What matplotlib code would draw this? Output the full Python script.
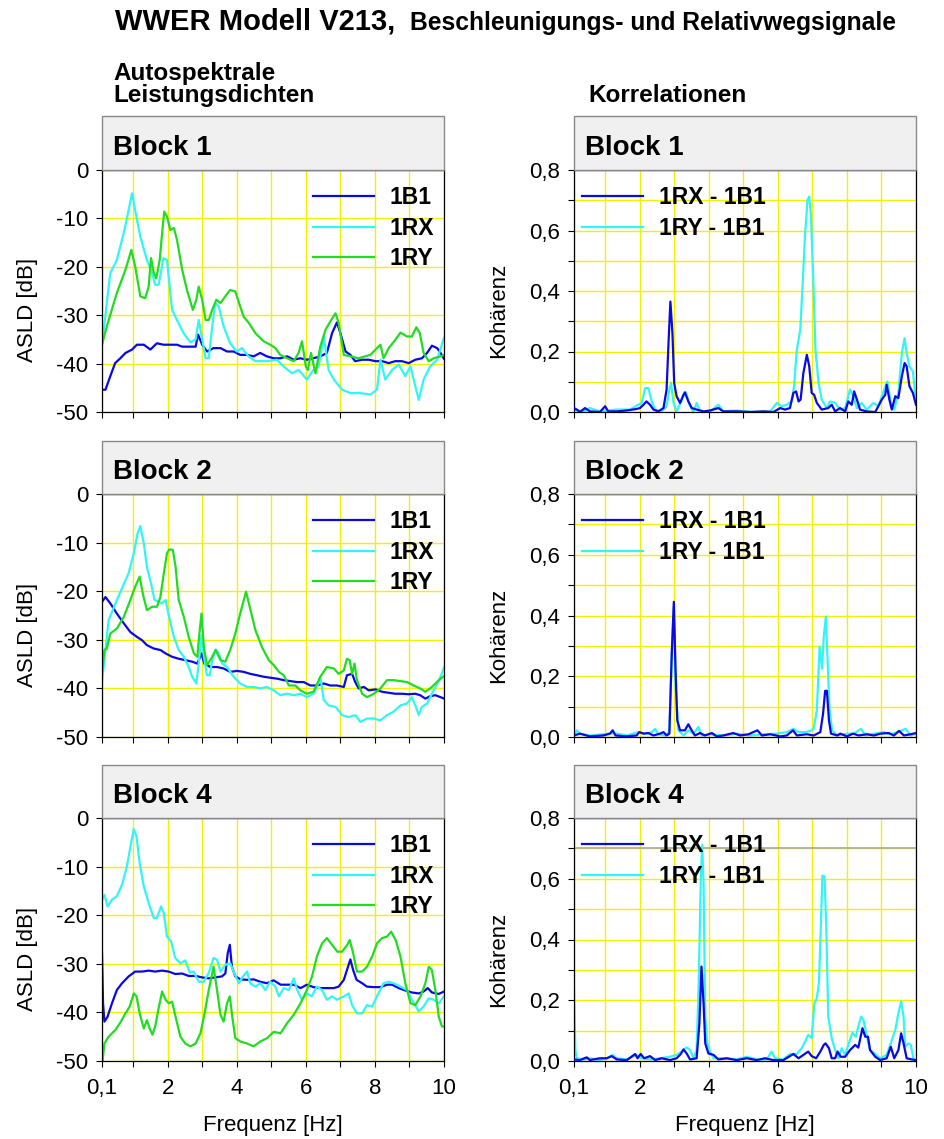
import matplotlib
matplotlib.use('Agg')
import matplotlib.pyplot as plt
from matplotlib.patches import Rectangle
from matplotlib.ticker import FixedLocator, FuncFormatter, NullFormatter

plt.rcParams['font.family'] = ['Liberation Sans', 'DejaVu Sans']
plt.rcParams['axes.unicode_minus'] = False

# ---------------- data ----------------
blocks = ["Block 1", "Block 2", "Block 4"]
asld_labels = ["1B1", "1RX", "1RY"]
coh_labels = ["1RX - 1B1", "1RY - 1B1"]
x_ticks = [0.1, 2, 4, 6, 8, 10]
x_tick_labels = ["0,1", "2", "4", "6", "8", "10"]
x_minor = [1, 3, 5, 7, 9]
asld_yticks = [0, -10, -20, -30, -40, -50]
coh_yticks = [0.0, 0.2, 0.4, 0.6, 0.8]
coh_yminor = [0.1, 0.3, 0.5, 0.7]

# Block 1, ASLD
b1_1B1_f = [0.1, 0.2, 0.34, 0.48, 0.63, 0.78, 0.97, 1.11, 1.31, 1.5, 1.69, 1.88, 2.08, 2.27, 2.42, 2.61, 2.81, 2.88, 3.0, 3.14, 3.33, 3.53, 3.72, 3.91, 4.1, 4.3, 4.49, 4.68, 4.87, 5.07, 5.26, 5.46, 5.65, 5.84, 6.03, 6.22, 6.42, 6.61, 6.76, 6.9, 7.0, 7.15, 7.29, 7.43, 7.63, 7.82, 8.02, 8.21, 8.4, 8.59, 8.78, 8.98, 9.17, 9.36, 9.51, 9.65, 9.8, 9.9, 10]
b1_1B1_v = [-45.4, -45.4, -42.6, -39.9, -38.9, -37.8, -37.1, -36.1, -36.1, -37.1, -35.8, -36.1, -36.1, -36.1, -36.5, -36.5, -36.5, -34.0, -36.1, -37.5, -36.8, -36.8, -37.5, -37.5, -38.2, -38.2, -38.5, -37.8, -38.5, -38.9, -38.9, -38.5, -39.2, -38.9, -39.2, -38.9, -38.5, -37.8, -33.7, -31.5, -33.7, -37.5, -38.2, -39.5, -39.2, -39.2, -39.5, -39.5, -39.9, -39.5, -39.5, -39.9, -39.2, -38.9, -37.8, -36.3, -36.8, -37.8, -39.0]
b1_1RX_f = [0.1, 0.34, 0.53, 0.73, 0.87, 0.97, 1.06, 1.21, 1.4, 1.55, 1.64, 1.74, 1.88, 1.98, 2.13, 2.27, 2.46, 2.66, 2.81, 2.9, 3.0, 3.1, 3.19, 3.29, 3.38, 3.48, 3.62, 3.81, 4.0, 4.15, 4.34, 4.54, 4.87, 5.16, 5.36, 5.6, 5.79, 6.03, 6.22, 6.37, 6.52, 6.66, 6.81, 7.05, 7.29, 7.58, 7.87, 8.06, 8.16, 8.3, 8.5, 8.69, 8.88, 9.03, 9.17, 9.27, 9.41, 9.6, 9.8, 10]
b1_1RX_v = [-36.1, -21.3, -18.6, -13.0, -8.3, -4.8, -8.3, -13.8, -18.6, -21.3, -23.7, -23.7, -18.2, -18.6, -28.9, -31.0, -33.7, -35.6, -35.0, -31.0, -35.0, -38.9, -38.9, -32.3, -27.5, -28.2, -32.3, -35.8, -37.5, -36.8, -38.5, -39.5, -39.5, -39.2, -40.6, -42.0, -41.3, -43.3, -41.3, -40.6, -34.4, -41.3, -43.3, -45.4, -46.1, -46.1, -46.4, -45.4, -39.2, -43.3, -41.3, -40.2, -42.6, -40.6, -44.7, -47.5, -43.3, -40.6, -39.2, -34.7]
b1_1RY_f = [0.1, 0.24, 0.53, 0.78, 0.95, 1.06, 1.21, 1.35, 1.45, 1.52, 1.6, 1.67, 1.77, 1.84, 1.9, 1.98, 2.08, 2.18, 2.27, 2.42, 2.56, 2.73, 2.83, 2.9, 3.0, 3.1, 3.19, 3.29, 3.41, 3.53, 3.67, 3.81, 3.96, 4.1, 4.2, 4.35, 4.54, 4.78, 4.97, 5.12, 5.26, 5.46, 5.65, 5.79, 5.89, 6.0, 6.06, 6.15, 6.28, 6.42, 6.57, 6.71, 6.86, 6.95, 7.1, 7.29, 7.53, 7.72, 7.87, 8.06, 8.16, 8.25, 8.4, 8.59, 8.74, 8.93, 9.07, 9.2, 9.3, 9.41, 9.56, 9.7, 9.9, 10]
b1_1RY_v = [-36.1, -32.3, -25.4, -20.6, -16.5, -19.9, -26.1, -26.5, -24.1, -18.2, -21.3, -22.4, -18.6, -13.1, -8.6, -9.6, -12.4, -12.0, -14.4, -20.6, -24.8, -28.9, -26.8, -24.1, -26.8, -31.0, -31.0, -28.9, -26.8, -27.5, -26.1, -24.8, -25.1, -28.2, -30.3, -31.6, -33.7, -35.4, -36.1, -36.8, -38.2, -38.9, -39.5, -37.8, -35.4, -40.6, -41.3, -37.8, -42.0, -36.5, -33.0, -31.3, -29.6, -31.6, -38.2, -38.5, -38.9, -38.5, -38.2, -36.8, -36.1, -38.9, -36.8, -35.1, -33.6, -34.4, -34.4, -32.5, -33.7, -37.8, -39.5, -38.9, -38.5, -38.2]

# Block 2, ASLD
b2_1B1_f = [0.1, 0.2, 0.34, 0.53, 0.73, 0.92, 1.11, 1.26, 1.4, 1.6, 1.79, 1.94, 2.13, 2.32, 2.52, 2.71, 2.86, 2.98, 3.06, 3.24, 3.43, 3.62, 3.81, 4.01, 4.2, 4.39, 4.59, 4.78, 4.97, 5.17, 5.36, 5.55, 5.75, 5.94, 6.13, 6.32, 6.52, 6.71, 6.9, 7.1, 7.19, 7.34, 7.43, 7.53, 7.68, 7.82, 8.02, 8.21, 8.4, 8.59, 8.78, 8.98, 9.17, 9.31, 9.46, 9.6, 9.75, 9.9, 10]
b2_1B1_v = [-22.2, -21.2, -22.5, -24.6, -26.6, -28.4, -29.4, -30.1, -31.1, -31.8, -32.1, -32.8, -33.5, -33.9, -34.2, -34.5, -34.9, -32.8, -34.9, -35.6, -35.6, -35.9, -36.6, -36.4, -36.6, -37.0, -37.3, -37.6, -37.8, -38.0, -38.3, -38.5, -38.7, -38.7, -39.4, -39.4, -39.0, -39.4, -39.4, -39.7, -37.3, -37.0, -38.7, -40.0, -39.7, -40.4, -40.2, -40.7, -40.9, -41.1, -41.1, -41.2, -41.1, -41.4, -42.1, -41.6, -41.4, -41.8, -42.1]
b2_1RX_f = [0.1, 0.2, 0.29, 0.49, 0.68, 0.87, 1.02, 1.13, 1.21, 1.31, 1.4, 1.52, 1.62, 1.74, 1.84, 1.94, 2.03, 2.18, 2.32, 2.47, 2.61, 2.71, 2.83, 2.9, 2.98, 3.05, 3.14, 3.22, 3.29, 3.39, 3.48, 3.58, 3.72, 3.91, 4.1, 4.3, 4.49, 4.68, 4.87, 5.07, 5.26, 5.46, 5.65, 5.84, 6.03, 6.22, 6.32, 6.42, 6.52, 6.66, 6.86, 7.05, 7.24, 7.43, 7.58, 7.77, 7.97, 8.16, 8.35, 8.54, 8.74, 8.93, 9.07, 9.17, 9.27, 9.36, 9.51, 9.65, 9.8, 9.9, 10]
b2_1RX_v = [-38.7, -32.1, -26.0, -22.5, -19.4, -16.3, -12.2, -8.1, -6.6, -10.2, -15.0, -18.4, -21.8, -22.2, -22.5, -21.8, -24.9, -29.4, -32.1, -33.5, -35.6, -37.6, -39.0, -34.9, -29.1, -33.5, -37.3, -37.3, -34.2, -32.0, -32.8, -34.9, -35.6, -37.6, -39.0, -39.7, -39.7, -40.0, -39.7, -40.4, -41.4, -41.1, -41.4, -41.1, -41.8, -41.1, -39.7, -37.6, -42.4, -43.5, -43.8, -45.5, -45.9, -45.5, -46.9, -46.2, -46.2, -46.6, -45.5, -44.8, -43.5, -43.1, -41.8, -43.5, -45.5, -43.8, -43.1, -41.1, -39.0, -37.6, -35.7]
b2_1RY_f = [0.1, 0.17, 0.24, 0.34, 0.53, 0.73, 0.92, 1.06, 1.19, 1.29, 1.4, 1.55, 1.69, 1.79, 1.89, 1.98, 2.05, 2.15, 2.23, 2.32, 2.47, 2.61, 2.76, 2.86, 2.91, 2.98, 3.05, 3.14, 3.26, 3.39, 3.53, 3.67, 3.81, 3.96, 4.1, 4.27, 4.4, 4.54, 4.73, 4.93, 5.07, 5.22, 5.36, 5.51, 5.7, 5.84, 6.03, 6.22, 6.42, 6.61, 6.81, 6.95, 7.1, 7.19, 7.27, 7.34, 7.41, 7.48, 7.63, 7.77, 7.97, 8.16, 8.35, 8.54, 8.74, 8.93, 9.12, 9.31, 9.46, 9.6, 9.75, 9.9, 10]
b2_1RY_v = [-37.0, -32.1, -31.8, -28.7, -27.7, -25.3, -21.8, -19.1, -17.0, -20.8, -23.9, -23.2, -23.2, -21.2, -16.3, -12.2, -11.4, -11.5, -15.0, -21.8, -25.3, -29.4, -32.8, -33.5, -29.4, -24.6, -31.5, -35.2, -33.9, -32.1, -34.2, -34.5, -32.1, -28.7, -24.6, -20.1, -23.9, -28.0, -31.5, -34.2, -35.2, -36.6, -37.3, -39.4, -39.4, -40.4, -41.1, -40.7, -37.6, -35.6, -35.9, -37.0, -36.3, -33.9, -34.2, -37.0, -34.9, -38.3, -41.1, -41.8, -41.1, -40.0, -38.3, -38.3, -38.5, -38.7, -39.4, -40.0, -40.7, -40.0, -39.0, -38.0, -37.5]

# Block 4, ASLD
b4_1B1_f = [0.1, 0.13, 0.17, 0.26, 0.39, 0.53, 0.68, 0.87, 1.06, 1.26, 1.45, 1.64, 1.84, 2.03, 2.22, 2.42, 2.61, 2.81, 3.0, 3.19, 3.38, 3.57, 3.67, 3.74, 3.8, 3.86, 3.96, 4.11, 4.3, 4.49, 4.68, 4.88, 5.07, 5.27, 5.46, 5.65, 5.85, 6.03, 6.22, 6.42, 6.61, 6.81, 6.95, 7.1, 7.19, 7.29, 7.37, 7.47, 7.63, 7.77, 7.97, 8.16, 8.35, 8.5, 8.69, 8.88, 9.07, 9.27, 9.41, 9.53, 9.65, 9.85, 10]
b4_1B1_v = [-27.8, -38.1, -41.9, -40.9, -38.1, -35.4, -34.0, -32.6, -31.6, -31.6, -31.4, -31.6, -31.4, -31.6, -32.1, -32.0, -32.5, -32.5, -32.8, -33.0, -32.8, -32.6, -32.0, -27.8, -26.1, -30.6, -32.6, -33.2, -33.3, -33.2, -33.7, -34.0, -33.4, -34.3, -34.3, -34.3, -35.0, -34.3, -34.8, -35.0, -35.0, -35.0, -34.7, -33.3, -31.3, -29.1, -31.3, -33.3, -34.0, -34.7, -34.8, -34.8, -34.3, -34.3, -35.0, -35.5, -35.9, -36.1, -35.7, -35.0, -35.9, -36.2, -35.7]
b4_1RX_f = [0.1, 0.17, 0.26, 0.39, 0.53, 0.68, 0.82, 0.94, 1.02, 1.1, 1.19, 1.31, 1.45, 1.6, 1.69, 1.81, 1.89, 1.98, 2.1, 2.22, 2.37, 2.51, 2.64, 2.75, 2.9, 3.04, 3.19, 3.33, 3.43, 3.53, 3.67, 3.81, 3.91, 4.06, 4.18, 4.3, 4.39, 4.54, 4.68, 4.83, 4.97, 5.12, 5.22, 5.36, 5.51, 5.65, 5.75, 5.89, 6.03, 6.17, 6.32, 6.47, 6.61, 6.76, 6.9, 7.1, 7.24, 7.34, 7.48, 7.63, 7.77, 7.92, 8.06, 8.25, 8.4, 8.54, 8.74, 8.93, 9.07, 9.27, 9.41, 9.56, 9.7, 9.85, 10]
b4_1RX_v = [-16.8, -15.8, -18.2, -16.8, -16.1, -13.7, -10.0, -5.2, -2.3, -3.8, -9.3, -14.1, -17.5, -20.6, -20.6, -18.2, -19.6, -24.4, -25.4, -28.8, -29.9, -29.3, -31.8, -31.6, -33.7, -33.7, -31.9, -28.8, -29.2, -31.6, -30.2, -29.9, -31.6, -34.0, -32.6, -31.6, -34.0, -34.7, -34.0, -35.4, -33.7, -34.7, -36.7, -35.0, -35.4, -33.0, -35.4, -37.4, -36.1, -36.7, -34.7, -35.4, -37.4, -36.7, -37.4, -36.7, -36.1, -38.5, -40.2, -40.2, -38.5, -38.8, -36.7, -34.0, -33.7, -34.0, -34.7, -35.4, -37.4, -39.8, -38.8, -37.1, -37.4, -38.1, -36.7]
b4_1RY_f = [0.1, 0.17, 0.29, 0.49, 0.63, 0.78, 0.9, 1.02, 1.1, 1.19, 1.31, 1.4, 1.48, 1.56, 1.64, 1.74, 1.84, 1.94, 2.03, 2.13, 2.23, 2.37, 2.51, 2.66, 2.81, 2.95, 3.07, 3.19, 3.33, 3.43, 3.53, 3.62, 3.72, 3.8, 3.87, 3.96, 4.11, 4.3, 4.49, 4.68, 4.88, 5.07, 5.27, 5.46, 5.65, 5.85, 6.03, 6.18, 6.32, 6.47, 6.61, 6.76, 6.91, 7.05, 7.2, 7.27, 7.37, 7.48, 7.63, 7.77, 7.92, 8.06, 8.21, 8.35, 8.47, 8.6, 8.74, 8.88, 9.03, 9.17, 9.32, 9.46, 9.56, 9.65, 9.75, 9.85, 9.94, 10]
b4_1RY_v = [-51.2, -46.4, -45.0, -43.6, -42.1, -40.2, -38.8, -36.1, -36.7, -40.2, -43.3, -41.6, -43.3, -44.6, -42.9, -39.1, -35.7, -37.4, -38.1, -37.8, -40.9, -45.0, -46.4, -47.0, -46.4, -44.3, -40.2, -35.4, -30.6, -35.4, -40.5, -41.9, -38.1, -36.7, -40.9, -45.3, -46.0, -46.4, -47.0, -46.0, -45.3, -44.0, -44.3, -42.2, -40.5, -38.1, -35.4, -32.6, -28.5, -25.8, -24.7, -26.1, -27.5, -27.5, -26.1, -25.1, -27.8, -31.6, -31.6, -30.6, -28.5, -25.8, -24.7, -24.4, -23.4, -25.1, -28.5, -34.0, -38.1, -38.5, -36.7, -34.0, -30.6, -31.3, -35.4, -40.9, -42.9, -42.9]

# Block 1, coherence
c1_RX_f = [0.1, 0.18, 0.27, 0.42, 0.56, 0.85, 1.0, 1.09, 1.34, 1.63, 1.91, 2.01, 2.11, 2.2, 2.3, 2.4, 2.54, 2.69, 2.78, 2.84, 2.89, 2.95, 3.0, 3.07, 3.17, 3.27, 3.31, 3.41, 3.51, 3.65, 3.85, 4.04, 4.28, 4.42, 4.81, 5.2, 5.58, 5.87, 6.07, 6.21, 6.35, 6.45, 6.53, 6.6, 6.66, 6.74, 6.84, 6.91, 6.98, 7.05, 7.13, 7.27, 7.46, 7.56, 7.66, 7.8, 7.95, 8.04, 8.14, 8.21, 8.29, 8.38, 8.57, 8.82, 9.01, 9.11, 9.15, 9.23, 9.3, 9.4, 9.49, 9.59, 9.67, 9.73, 9.81, 9.91, 10]
c1_RX_v = [0.013, 0.008, 0.0, 0.013, 0.002, 0.0, 0.019, 0.002, 0.002, 0.005, 0.01, 0.013, 0.024, 0.035, 0.024, 0.008, 0.002, 0.013, 0.074, 0.239, 0.365, 0.26, 0.096, 0.052, 0.03, 0.057, 0.065, 0.035, 0.013, 0.008, 0.002, 0.005, 0.013, 0.002, 0.002, 0.0, 0.002, 0.0, 0.013, 0.008, 0.013, 0.063, 0.068, 0.035, 0.041, 0.129, 0.189, 0.151, 0.063, 0.057, 0.03, 0.008, 0.013, 0.024, 0.002, 0.013, 0.002, 0.035, 0.024, 0.068, 0.041, 0.008, 0.002, 0.0, 0.041, 0.057, 0.09, 0.041, 0.008, 0.052, 0.046, 0.118, 0.162, 0.151, 0.085, 0.063, 0.024]
c1_RY_f = [0.1, 0.37, 0.56, 0.85, 1.34, 1.72, 1.96, 2.06, 2.16, 2.25, 2.35, 2.45, 2.64, 2.78, 2.86, 2.91, 2.98, 3.07, 3.27, 3.34, 3.46, 3.56, 3.65, 3.75, 4.04, 4.28, 4.42, 4.81, 5.29, 5.78, 5.97, 6.11, 6.26, 6.4, 6.47, 6.55, 6.65, 6.72, 6.79, 6.86, 6.91, 6.96, 7.03, 7.09, 7.18, 7.27, 7.42, 7.51, 7.66, 7.8, 7.95, 8.09, 8.19, 8.29, 8.43, 8.57, 8.77, 8.91, 9.06, 9.17, 9.27, 9.37, 9.49, 9.59, 9.67, 9.73, 9.81, 9.91, 10]
c1_RY_v = [0.008, 0.002, 0.013, 0.002, 0.008, 0.008, 0.024, 0.03, 0.079, 0.079, 0.035, 0.008, 0.002, 0.019, 0.074, 0.096, 0.03, 0.002, 0.052, 0.065, 0.019, 0.0, 0.03, 0.002, 0.002, 0.024, 0.002, 0.005, 0.0, 0.002, 0.03, 0.019, 0.024, 0.035, 0.085, 0.206, 0.272, 0.426, 0.591, 0.701, 0.712, 0.646, 0.426, 0.206, 0.096, 0.041, 0.013, 0.035, 0.03, 0.008, 0.013, 0.074, 0.052, 0.013, 0.03, 0.008, 0.03, 0.019, 0.068, 0.101, 0.03, 0.008, 0.063, 0.195, 0.244, 0.195, 0.151, 0.134, 0.035]

# Block 2, coherence
c2_RX_f = [0.1, 0.27, 0.56, 0.95, 1.14, 1.22, 1.3, 1.63, 1.91, 1.99, 2.11, 2.25, 2.4, 2.59, 2.69, 2.78, 2.86, 2.93, 2.99, 3.04, 3.09, 3.17, 3.31, 3.41, 3.48, 3.6, 3.75, 3.89, 4.09, 4.23, 4.42, 4.71, 4.91, 5.15, 5.41, 5.54, 5.78, 6.07, 6.26, 6.44, 6.55, 6.84, 7.04, 7.23, 7.31, 7.37, 7.42, 7.48, 7.54, 7.72, 7.81, 8.0, 8.18, 8.34, 8.58, 8.78, 8.97, 9.21, 9.36, 9.51, 9.65, 9.84, 10]
c2_RX_v = [0.005, 0.011, 0.002, 0.005, 0.011, 0.022, 0.005, 0.002, 0.005, 0.016, 0.011, 0.013, 0.005, 0.011, 0.016, 0.005, 0.011, 0.275, 0.445, 0.22, 0.055, 0.022, 0.022, 0.042, 0.027, 0.005, 0.013, 0.005, 0.013, 0.002, 0.005, 0.013, 0.005, 0.009, 0.022, 0.005, 0.009, 0.002, 0.005, 0.022, 0.005, 0.009, 0.005, 0.016, 0.077, 0.152, 0.152, 0.055, 0.011, 0.005, 0.011, 0.002, 0.011, 0.005, 0.009, 0.005, 0.011, 0.013, 0.005, 0.02, 0.005, 0.009, 0.013]
c2_RY_f = [0.1, 0.18, 0.27, 0.56, 0.95, 1.24, 1.63, 1.96, 2.2, 2.35, 2.45, 2.54, 2.73, 2.86, 2.93, 2.99, 3.04, 3.12, 3.27, 3.41, 3.56, 3.7, 3.8, 4.04, 4.42, 4.81, 5.2, 5.58, 5.97, 6.26, 6.45, 6.6, 6.79, 6.94, 7.04, 7.13, 7.21, 7.28, 7.33, 7.39, 7.44, 7.5, 7.57, 7.72, 8.0, 8.2, 8.41, 8.54, 8.78, 9.07, 9.26, 9.46, 9.7, 9.84, 10]
c2_RY_v = [0.005, 0.022, 0.011, 0.005, 0.009, 0.013, 0.005, 0.016, 0.011, 0.016, 0.027, 0.009, 0.005, 0.016, 0.275, 0.429, 0.165, 0.022, 0.005, 0.022, 0.011, 0.033, 0.005, 0.009, 0.005, 0.011, 0.005, 0.009, 0.011, 0.016, 0.027, 0.016, 0.016, 0.02, 0.027, 0.088, 0.297, 0.225, 0.33, 0.396, 0.253, 0.088, 0.022, 0.005, 0.011, 0.011, 0.027, 0.005, 0.011, 0.016, 0.009, 0.016, 0.027, 0.005, 0.011]

# Block 4, coherence
c4_RX_f = [0.1, 0.27, 0.47, 0.56, 0.85, 1.05, 1.19, 1.34, 1.63, 1.87, 1.94, 2.03, 2.13, 2.3, 2.45, 2.64, 2.88, 3.07, 3.19, 3.27, 3.36, 3.46, 3.65, 3.73, 3.79, 3.85, 3.9, 3.99, 4.14, 4.28, 4.52, 4.81, 5.1, 5.39, 5.63, 5.87, 6.16, 6.45, 6.6, 6.74, 6.88, 6.98, 7.11, 7.23, 7.33, 7.38, 7.48, 7.56, 7.66, 7.73, 7.82, 7.95, 8.09, 8.24, 8.33, 8.45, 8.53, 8.61, 8.67, 8.82, 8.96, 9.15, 9.27, 9.37, 9.49, 9.57, 9.64, 9.73, 9.88, 10]
c4_RX_v = [0.005, 0.003, 0.012, 0.003, 0.009, 0.009, 0.016, 0.005, 0.003, 0.023, 0.009, 0.023, 0.009, 0.016, 0.003, 0.009, 0.003, 0.009, 0.023, 0.038, 0.025, 0.005, 0.009, 0.124, 0.311, 0.19, 0.058, 0.025, 0.02, 0.005, 0.009, 0.003, 0.009, 0.003, 0.009, 0.003, 0.003, 0.023, 0.009, 0.02, 0.031, 0.016, 0.009, 0.031, 0.053, 0.058, 0.042, 0.009, 0.009, 0.031, 0.014, 0.014, 0.036, 0.053, 0.044, 0.108, 0.08, 0.08, 0.036, 0.014, 0.003, 0.009, 0.047, 0.009, 0.036, 0.091, 0.058, 0.009, 0.005, 0.003]
c4_RY_f = [0.1, 0.14, 0.18, 0.37, 0.56, 0.85, 1.05, 1.22, 1.34, 1.63, 1.91, 2.06, 2.3, 2.59, 2.88, 3.07, 3.22, 3.36, 3.46, 3.56, 3.65, 3.71, 3.77, 3.81, 3.85, 3.9, 3.96, 4.04, 4.14, 4.42, 4.81, 5.1, 5.39, 5.68, 5.82, 5.92, 6.16, 6.35, 6.55, 6.69, 6.79, 6.88, 6.98, 7.06, 7.13, 7.19, 7.24, 7.29, 7.35, 7.4, 7.46, 7.56, 7.66, 7.76, 7.85, 7.95, 8.04, 8.16, 8.26, 8.33, 8.41, 8.48, 8.58, 8.67, 8.82, 8.96, 9.15, 9.27, 9.4, 9.49, 9.57, 9.64, 9.69, 9.78, 9.85, 9.93, 10]
c4_RY_v = [0.234, 0.036, 0.009, 0.005, 0.009, 0.003, 0.009, 0.02, 0.009, 0.005, 0.02, 0.009, 0.005, 0.009, 0.014, 0.02, 0.031, 0.045, 0.036, 0.009, 0.036, 0.256, 0.597, 0.712, 0.586, 0.146, 0.058, 0.031, 0.009, 0.009, 0.005, 0.014, 0.005, 0.005, 0.031, 0.009, 0.005, 0.023, 0.023, 0.042, 0.064, 0.086, 0.075, 0.19, 0.207, 0.256, 0.421, 0.61, 0.608, 0.454, 0.146, 0.075, 0.036, 0.009, 0.042, 0.02, 0.053, 0.093, 0.08, 0.113, 0.146, 0.135, 0.08, 0.036, 0.023, 0.009, 0.02, 0.058, 0.102, 0.157, 0.196, 0.146, 0.047, 0.058, 0.053, 0.005, 0.003]
c4_ref_level = 0.7   # grey line in Block 4 coherence panel

asld_data = [
    [(b1_1B1_f, b1_1B1_v), (b1_1RX_f, b1_1RX_v), (b1_1RY_f, b1_1RY_v)],
    [(b2_1B1_f, b2_1B1_v), (b2_1RX_f, b2_1RX_v), (b2_1RY_f, b2_1RY_v)],
    [(b4_1B1_f, b4_1B1_v), (b4_1RX_f, b4_1RX_v), (b4_1RY_f, b4_1RY_v)],
]
coh_data = [
    [(c1_RX_f, c1_RX_v), (c1_RY_f, c1_RY_v)],
    [(c2_RX_f, c2_RX_v), (c2_RY_f, c2_RY_v)],
    [(c4_RX_f, c4_RX_v), (c4_RY_f, c4_RY_v)],
]

# ---------------- styling / layout ----------------
W, H = 945, 1139
BLUE, CYAN, GREEN = '#0a0ae0', '#33f5f5', '#22dc22'
YEL = '#f2f200'
asld_colors = [BLUE, CYAN, GREEN]
coh_colors = [BLUE, CYAN]

fig = plt.figure(figsize=(W / 100, H / 100), dpi=100)

col_l = [102, 574]
col_r = [444, 916]
row_t = [170, 494, 818]
row_b = [412, 737, 1061]
head_t = [116, 441, 765]


def fx(px):
    return px / W


def fy(py):
    return 1 - py / H


def style_axes(ax, bottom_row):
    ax.set_xlim(0.1, 10)
    ax.xaxis.set_major_locator(FixedLocator(x_ticks))
    ax.xaxis.set_minor_locator(FixedLocator(x_minor))
    if bottom_row:
        ax.set_xticklabels(x_tick_labels)
    else:
        ax.xaxis.set_major_formatter(NullFormatter())
    ax.tick_params(which='both', direction='out', length=4, width=0.8,
                   labelsize=16, pad=6, top=False, right=False)
    ax.tick_params(axis='x', pad=8)
    for sp in ax.spines.values():
        sp.set_linewidth(0.9)
        sp.set_color('black')
    ax.grid(which='both', color=YEL, lw=1.0)
    ax.set_axisbelow(True)
    if bottom_row:
        ax.set_xlabel('Frequenz [Hz]', fontsize=16)
        ax.xaxis.set_label_coords(0.5, -0.222)


LEG_KW = dict(loc='upper left', frameon=False, borderpad=0, borderaxespad=0,
              handlelength=2.65, handletextpad=0.7, labelspacing=0.33,
              prop={'size': 16.5, 'weight': 'bold'})

for r in range(3):
    for c in range(2):
        l, rr, t, b = col_l[c], col_r[c], row_t[r], row_b[r]
        ax = fig.add_axes([fx(l), fy(b), fx(rr - l), (b - t) / H])
        # header box
        fig.patches.append(Rectangle((fx(l), fy(t)), fx(rr - l), (t - head_t[r]) / H,
                                     transform=fig.transFigure, facecolor='#f0f0f0',
                                     edgecolor='#888888', lw=1.0, zorder=0))
        fig.text(fx(l + 11), fy(t - 15), blocks[r], fontsize=20, fontweight='bold',
                 ha='left', va='baseline')
        if c == 0:
            for (f, v), col, lab in zip(asld_data[r], asld_colors, asld_labels):
                ax.plot(f, v, color=col, lw=1.6, label=lab)
            ax.set_ylim(-50, 0)
            ax.yaxis.set_major_locator(FixedLocator(asld_yticks))
            ax.set_yticklabels([str(v) for v in asld_yticks])
            style_axes(ax, r == 2)
            ax.set_ylabel('ASLD [dB]', fontsize=16)
            ax.yaxis.set_label_coords(-0.188, 0.42)
            ax.legend(bbox_to_anchor=(0.617, 0.933), **LEG_KW)
        else:
            for (f, v), col, lab, z in zip(coh_data[r], coh_colors, coh_labels, [3, 2]):
                ax.plot(f, v, color=col, lw=1.6, label=lab, zorder=z)
            if r == 2:
                ax.axhline(c4_ref_level, color='#a8a8a8', lw=1.2, zorder=1.5)
            ax.set_ylim(0, 0.8)
            ax.yaxis.set_major_locator(FixedLocator(coh_yticks))
            ax.yaxis.set_minor_locator(FixedLocator(coh_yminor))
            ax.yaxis.set_major_formatter(FuncFormatter(lambda v, p: f"{v:.1f}".replace('.', ',')))
            style_axes(ax, r == 2)
            ax.set_ylabel('Kohärenz', fontsize=16)
            ax.yaxis.set_label_coords(-0.19, 0.42)
            ax.legend(bbox_to_anchor=(0.023, 0.933), **LEG_KW)

# titles
fig.text(fx(115), fy(30), 'WWER Modell V213,', fontsize=21, fontweight='bold',
         ha='left', va='baseline')
fig.text(fx(410), fy(30), 'Beschleunigungs- und Relativwegsignale', fontsize=17.7,
         fontweight='bold', ha='left', va='baseline')
fig.text(fx(113), fy(80), 'Autospektrale', fontsize=17.5, fontweight='bold',
         ha='left', va='baseline')
fig.text(fx(113), fy(102), 'Leistungsdichten', fontsize=17.5, fontweight='bold',
         ha='left', va='baseline')
fig.text(fx(588), fy(102), 'Korrelationen', fontsize=17.5, fontweight='bold',
         ha='left', va='baseline')

fig.savefig('out.png', dpi=100, facecolor='white')
